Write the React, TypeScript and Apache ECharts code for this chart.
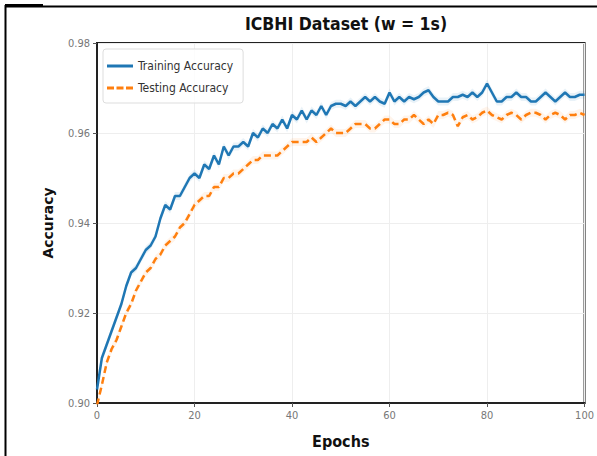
import React, { useEffect, useRef } from "react";
import * as echarts from "echarts";

const epochs: string[] = Array.from({ length: 101 }, (_, i) => String(i));

const trainingAccuracy: number[] = [
  0.903, 0.910, 0.913, 0.916, 0.919, 0.922, 0.926, 0.929, 0.930, 0.932,
  0.934, 0.935, 0.937, 0.941, 0.944, 0.943, 0.946, 0.946, 0.948, 0.950,
  0.951, 0.950, 0.953, 0.952, 0.955, 0.953, 0.957, 0.955, 0.957, 0.957,
  0.958, 0.957, 0.960, 0.959, 0.961, 0.960, 0.962, 0.961, 0.963, 0.961,
  0.964, 0.963, 0.965, 0.963, 0.965, 0.964, 0.966, 0.964, 0.966, 0.9665,
  0.9665, 0.966, 0.967, 0.966, 0.967, 0.968, 0.967, 0.968, 0.967, 0.9665,
  0.969, 0.967, 0.968, 0.967, 0.968, 0.9675, 0.968, 0.969, 0.9695, 0.968,
  0.967, 0.967, 0.967, 0.968, 0.968, 0.9685, 0.968, 0.969, 0.968, 0.969,
  0.971, 0.969, 0.967, 0.967, 0.968, 0.968, 0.969, 0.968, 0.968, 0.967,
  0.967, 0.968, 0.969, 0.968, 0.967, 0.968, 0.969, 0.968, 0.968, 0.9685,
  0.9685,
];

const testingAccuracy: number[] = [
  0.8995, 0.904, 0.909, 0.912, 0.914, 0.917, 0.920, 0.922, 0.925, 0.927,
  0.929, 0.930, 0.932, 0.933, 0.935, 0.936, 0.937, 0.939, 0.940, 0.942,
  0.944, 0.945, 0.946, 0.946, 0.948, 0.948, 0.950, 0.950, 0.951, 0.951,
  0.952, 0.953, 0.954, 0.954, 0.955, 0.955, 0.955, 0.955, 0.956, 0.957,
  0.958, 0.958, 0.958, 0.958, 0.959, 0.958, 0.959, 0.960, 0.961, 0.960,
  0.960, 0.960, 0.961, 0.962, 0.962, 0.962, 0.961, 0.961, 0.962, 0.963,
  0.963, 0.962, 0.962, 0.963, 0.963, 0.964, 0.963, 0.962, 0.963, 0.962,
  0.964, 0.964, 0.9645, 0.964, 0.9615, 0.9635, 0.964, 0.963, 0.9635, 0.9645,
  0.965, 0.964, 0.9635, 0.963, 0.964, 0.9645, 0.964, 0.963, 0.964, 0.9645,
  0.9645, 0.964, 0.963, 0.964, 0.9645, 0.964, 0.963, 0.964, 0.964, 0.9645,
  0.964,
];

const bandHalfWidth = 0.0009;

const yTicks = [0.9, 0.92, 0.94, 0.96, 0.98];

const solidIcon = "path://M0,0h26v3h-26z";
const dashedIcon = "path://M0,0h7v3h-7z M9.5,0h7v3h-7z M19,0h7v3h-7z";

export default function App() {
  const ref = useRef<HTMLDivElement>(null);
  useEffect(() => {
    if (!ref.current) return;
    const chart = echarts.init(ref.current, undefined, { renderer: "svg" });
    const lower = (arr: number[]) => arr.map((v) => v - bandHalfWidth);
    const width = () => epochs.map(() => 2 * bandHalfWidth);
    const condensed = "'DejaVu Sans Condensed', 'DejaVu Sans', sans-serif";
    chart.setOption({
      animation: false,
      backgroundColor: "#ffffff",
      title: {
        text: "ICBHI Dataset (w = 1s)",
        left: 341,
        top: 10,
        textAlign: "center",
        textStyle: {
          fontFamily: condensed,
          fontWeight: "bold",
          fontSize: 17.5,
          color: "#111",
        },
      },
      grid: {
        left: 97,
        top: 43,
        width: 488,
        height: 360,
        show: true,
        borderColor: "#222",
        borderWidth: 2,
        backgroundColor: "transparent",
      },
      legend: {
        left: 103,
        top: 49,
        orient: "vertical",
        itemWidth: 26,
        itemHeight: 14,
        itemGap: 10,
        padding: [11, 10, 9, 4],
        borderColor: "#dddddd",
        borderWidth: 1,
        borderRadius: 3,
        backgroundColor: "rgba(255,255,255,0.8)",
        data: [
          { name: "Training Accuracy", icon: solidIcon },
          { name: "Testing Accuracy", icon: dashedIcon },
        ],
        textStyle: { fontFamily: condensed, fontSize: 12, color: "#333" },
      },
      xAxis: {
        type: "category",
        data: epochs,
        boundaryGap: false,
        axisLine: { show: true, lineStyle: { color: "#222", width: 2 } },
        axisTick: { show: true, length: 4, interval: 19, lineStyle: { color: "#555" } },
        axisLabel: {
          color: "#777",
          fontSize: 11,
          fontFamily: condensed,
          margin: 7,
          interval: 19,
        },
        splitLine: { show: true, interval: 19, lineStyle: { color: "#eeeeee", width: 1 } },
        name: "Epochs",
        nameLocation: "middle",
        nameGap: 30,
        nameTextStyle: {
          fontFamily: condensed,
          fontWeight: "bold",
          fontSize: 16,
          color: "#111",
        },
      },
      yAxis: {
        type: "value",
        min: 0.9,
        max: 0.98,
        interval: 0.02,
        axisLine: { show: true, lineStyle: { color: "#222", width: 2 } },
        axisTick: { show: true, length: 4, lineStyle: { color: "#555" } },
        axisLabel: {
          color: "#777",
          fontSize: 11,
          fontFamily: condensed,
          margin: 7,
          formatter: (v: number) => {
            const t = yTicks.find((y) => Math.abs(y - v) < 1e-6);
            return t !== undefined ? t.toFixed(2) : "";
          },
        },
        splitLine: { show: true, lineStyle: { color: "#eeeeee", width: 1 } },
        name: "Accuracy",
        nameLocation: "middle",
        nameGap: 42,
        nameTextStyle: {
          fontFamily: "'DejaVu Sans', sans-serif",
          fontWeight: "bold",
          fontSize: 14,
          color: "#111",
        },
      },
      graphic: [
        { type: "line", shape: { x1: 5.5, y1: 5, x2: 5.5, y2: 456 }, style: { stroke: "#000", lineWidth: 2 } },
        { type: "line", shape: { x1: 5, y1: 6.5, x2: 597, y2: 6.5 }, style: { stroke: "#000", lineWidth: 2 } },
        { type: "line", shape: { x1: 5, y1: 5.5, x2: 43, y2: 5.5 }, style: { stroke: "#000", lineWidth: 3 } },
      ],
      series: [
        {
          name: "trainBandLow",
          type: "line",
          stack: "trainBand",
          data: lower(trainingAccuracy),
          symbol: "none",
          lineStyle: { opacity: 0 },
          silent: true,
          z: 1,
        },
        {
          name: "trainBandWidth",
          type: "line",
          stack: "trainBand",
          data: width(),
          symbol: "none",
          lineStyle: { opacity: 0 },
          areaStyle: { color: "rgba(31,119,180,0.14)" },
          silent: true,
          z: 1,
        },
        {
          name: "testBandLow",
          type: "line",
          stack: "testBand",
          data: lower(testingAccuracy),
          symbol: "none",
          lineStyle: { opacity: 0 },
          silent: true,
          z: 1,
        },
        {
          name: "testBandWidth",
          type: "line",
          stack: "testBand",
          data: width(),
          symbol: "none",
          lineStyle: { opacity: 0 },
          areaStyle: { color: "rgba(255,127,14,0.12)" },
          silent: true,
          z: 1,
        },
        {
          name: "Training Accuracy",
          type: "line",
          data: trainingAccuracy,
          symbol: "none",
          color: "#1f77b4",
          lineStyle: { color: "#1f77b4", width: 2.5 },
          z: 3,
        },
        {
          name: "Testing Accuracy",
          type: "line",
          data: testingAccuracy,
          symbol: "none",
          color: "#ff7f0e",
          lineStyle: { color: "#ff7f0e", width: 2.5, type: [7, 4] },
          z: 3,
        },
      ],
    });
    return () => chart.dispose();
  }, []);
  return (
    <div
      ref={ref}
      style={{ position: "fixed", left: 0, top: 0, width: 597, height: 456 }}
    />
  );
}
